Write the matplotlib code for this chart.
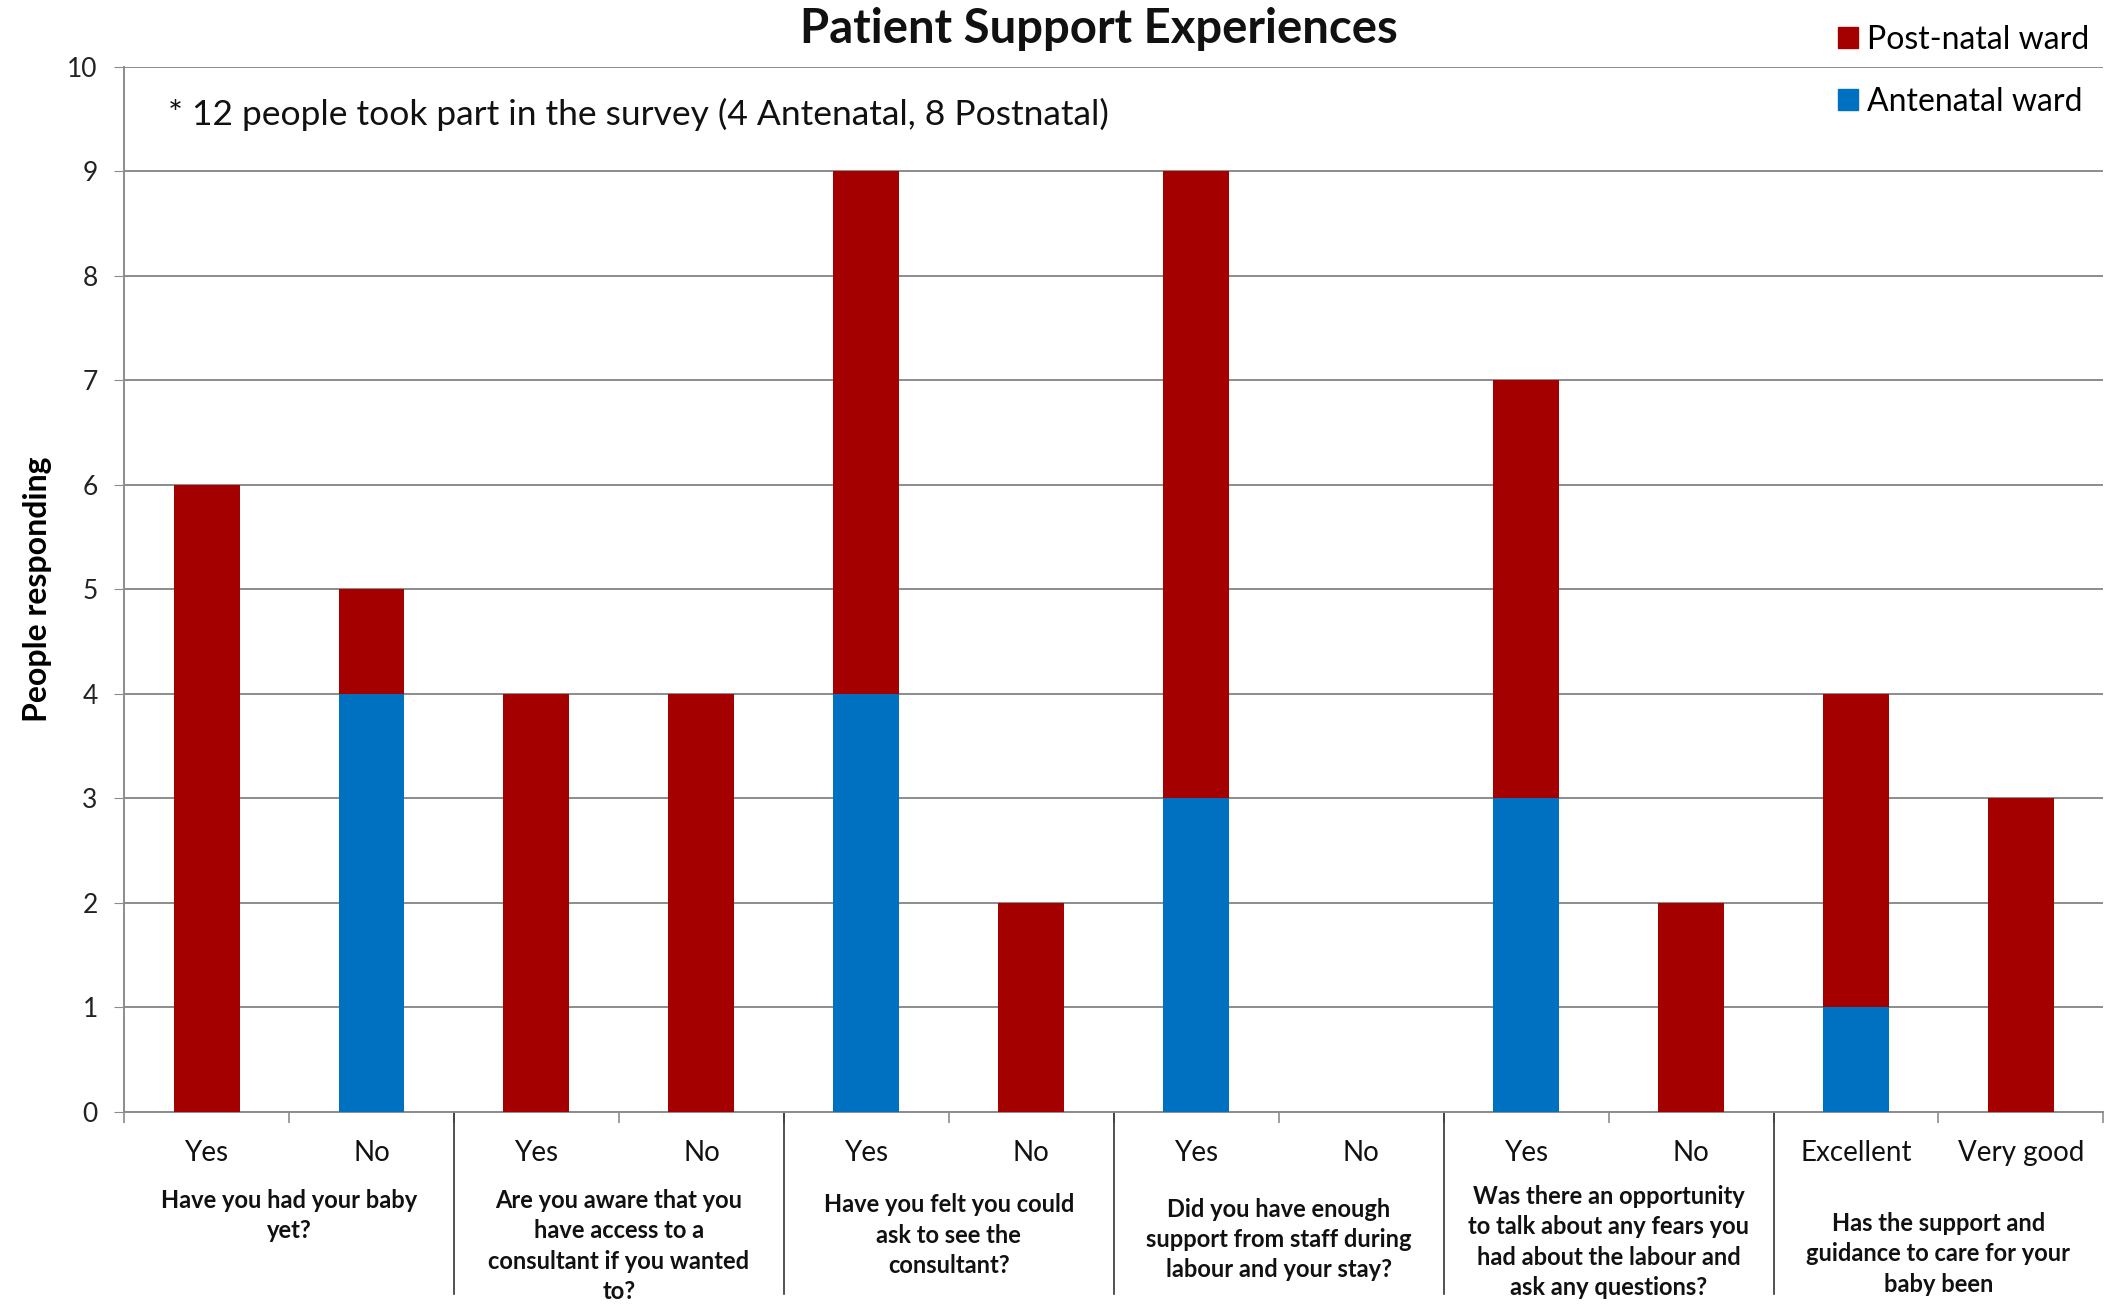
import matplotlib
matplotlib.use("Agg")
import matplotlib.pyplot as plt
import matplotlib.transforms as mtransforms
from matplotlib.patches import Patch

# Survey answers (one column per answer option)
answers = ["Yes", "No", "Yes", "No", "Yes", "No", "Yes", "No", "Yes", "No",
           "Excellent", "Very good"]
antenatal = [0, 4, 0, 0, 4, 0, 3, 0, 3, 0, 1, 0]
postnatal = [6, 1, 4, 4, 5, 2, 6, 0, 4, 2, 3, 3]

questions = [
    "Have you had your baby\nyet?",
    "Are you aware that you\nhave access to a\nconsultant if you wanted\nto?",
    "Have you felt you could\nask to see the\nconsultant?",
    "Did you have enough\nsupport from staff during\nlabour and your stay?",
    "Was there an opportunity\nto talk about any fears you\nhad about the labour and\nask any questions?",
    "Has the support and\nguidance to care for your\nbaby been",
]
question_top = [-0.074, -0.074, -0.078, -0.082, -0.070, -0.096]

RED = "#A50000"
BLUE = "#0070C0"
GRID = "#8C8C8C"
FONT = ["Lato", "DejaVu Sans"]

plt.rcParams["font.family"] = FONT

fig = plt.figure(figsize=(21.14, 13.06), dpi=100)
ax = fig.add_axes([0.0587, 0.1486, 0.9363, 0.8001])

x = list(range(len(answers)))
ax.bar(x, antenatal, width=0.4, color=BLUE, zorder=3)
ax.bar(x, postnatal, width=0.4, bottom=antenatal, color=RED, zorder=3)

ax.set_xlim(-0.5, len(answers) - 0.5)
ax.set_ylim(0, 10)
ax.set_yticks(range(0, 11))
ax.tick_params(axis="y", labelsize=19, length=7, color=GRID, pad=12,
               labelcolor="#222222")
ax.grid(axis="y", color=GRID, linewidth=1.4, zorder=0)
ax.set_axisbelow(True)

ax.set_xticks(x)
ax.set_xticklabels(answers, fontsize=20, color="#111111")
ax.tick_params(axis="x", which="major", length=0, pad=20)
ax.set_xticks([i - 0.5 for i in range(len(answers) + 1)], minor=True)
ax.tick_params(axis="x", which="minor", length=8, color=GRID, width=1.2)

for side in ("top", "right"):
    ax.spines[side].set_visible(False)
for side in ("left", "bottom"):
    ax.spines[side].set_color(GRID)
    ax.spines[side].set_linewidth(1.4)

# Group separators and question labels below the axis
trans = mtransforms.blended_transform_factory(ax.transData, ax.transAxes)
for g in range(1, len(questions)):
    xs = 2 * g - 0.5
    ax.plot([xs, xs], [0, -0.174], transform=trans, color="#333333",
            linewidth=1.2, clip_on=False)
for g, (q, yt) in enumerate(zip(questions, question_top)):
    ax.text(2 * g + 0.5, yt, q, transform=trans, ha="center", va="top",
            fontsize=17, fontweight="bold", linespacing=1.38,
            color="#111111")

ax.set_ylabel("People responding", fontsize=23, fontweight="bold", labelpad=11)

fig.text(0.52, 0.978, "Patient Support Experiences", ha="center", va="center",
         fontsize=34, fontweight="bold", color="#111111")
ax.text(0.022, 0.955, "* 12 people took part in the survey (4 Antenatal, 8 Postnatal)",
        transform=ax.transAxes, ha="left", va="center", fontsize=25.5,
        color="#111111")

handles = [Patch(color=RED, label="Post-natal ward"),
           Patch(color=BLUE, label="Antenatal ward")]
fig.legend(handles=handles, loc="upper right", bbox_to_anchor=(1.002, 1.003),
           frameon=False, fontsize=23, handlelength=0.6, handleheight=0.6,
           handletextpad=0.3, labelspacing=1.0)

fig.savefig("out.png", dpi=100)
